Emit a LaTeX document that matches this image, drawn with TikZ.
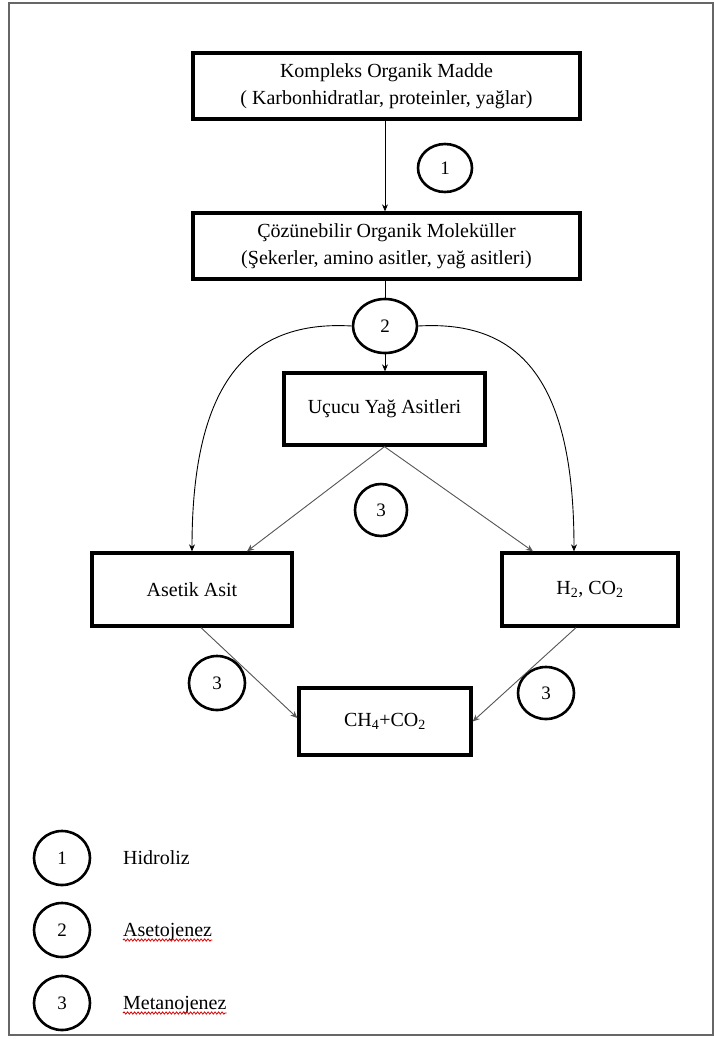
\documentclass[tikz,border=0pt]{standalone}
\usepackage{fontspec}
\setmainfont{Liberation Serif}
\usetikzlibrary{shapes.geometric,arrows.meta,decorations.pathmorphing}
\begin{document}
\begin{tikzpicture}[x=1pt,y=-1pt,
 box/.style={draw,line width=3.3pt,inner sep=0pt,align=center,font=\fontsize{20}{27}\selectfont},
 num/.style={draw,ellipse,line width=2.6pt,inner sep=0pt,font=\fontsize{19}{19}\selectfont},
 arr/.style={-{Stealth[length=7pt,width=6pt]},line width=0.9pt},
 garr/.style={arr,draw=black!65,fill=black!65},
 lbl/.style={anchor=base west,inner sep=0pt,font=\fontsize{20}{20}\selectfont},
 wavy/.style={draw=red!85!black,line width=0.8pt,decorate,decoration={snake,amplitude=1.1pt,segment length=3.5pt}}]
\useasboundingbox (0,0) rectangle (714,1039);
\draw[line width=1.5pt,black!60] (9,3) rectangle (713,1035);

% boxes
\node[box,minimum width=387pt,minimum height=66pt] (b1) at (386.5,86)
  {Kompleks Organik Madde\\( Karbonhidratlar, proteinler, yağlar)};
\node[box,minimum width=387pt,minimum height=66pt] (b2) at (386.5,246)
  {Çözünebilir Organik Moleküller\\(Şekerler, amino asitler, yağ asitleri)};
\node[box,minimum width=201pt,minimum height=72pt] (b3) at (384.5,409) {Uçucu Yağ Asitleri};
\node[box,minimum width=200pt,minimum height=73pt] (b4) at (192,589.5) {Asetik Asit};
\node[box,minimum width=176pt,minimum height=73pt] (b5) at (590,589.5) {H\textsubscript{2}, CO\textsubscript{2}};
\node[box,minimum width=172pt,minimum height=67pt] (b6) at (385,721.5) {CH\textsubscript{4}+CO\textsubscript{2}};

% step circles
\node[num,minimum width=54pt,minimum height=48pt] (c1) at (445,168) {1};
\node[num,minimum width=64pt,minimum height=54pt] (c2) at (385,326) {2};
\node[num,minimum width=52pt,minimum height=52pt] (c3m) at (381,510) {3};
\node[num,minimum width=56pt,minimum height=54pt] (c3l) at (217,683) {3};
\node[num,minimum width=56pt,minimum height=52pt] (c3r) at (546,693) {3};

% connectors
\draw[arr] (b1.south -| c2) -- (b2.north -| c2);
\draw[line width=0.9pt] (b2.south -| c2) -- (c2.north);
\draw[arr] (c2.south) -- (b3.north -| c2);
\draw[arr] (c2.west) .. controls (250,320) and (192,380) .. (b4.north);
\draw[arr] (c2.east) .. controls (520,320) and (574,380) .. ([xshift=-16pt]b5.north);
\draw[garr] (b3.south) -- ([xshift=55pt]b4.north);
\draw[garr] (b3.south) -- ([xshift=-57pt]b5.north);
\draw[garr] ([xshift=9pt]b4.south) -- ([yshift=3.5pt]b6.west);
\draw[garr] ([xshift=-14pt]b5.south) -- (b6.east);

% legend
\node[num,minimum width=56pt,minimum height=54pt] (l1) at (62,858) {1};
\node[num,minimum width=56pt,minimum height=54pt] (l2) at (62,930) {2};
\node[num,minimum width=56pt,minimum height=54pt] (l3) at (62,1003) {3};
\node[lbl] (t1) at (123,864) {Hidroliz};
\node[lbl] (t2) at (123,936) {Asetojenez};
\node[lbl] (t3) at (123,1009) {Metanojenez};
\draw[wavy] ([yshift=-4pt]t2.base west) -- ([yshift=-4pt]t2.base east);
\draw[wavy] ([yshift=-4pt]t3.base west) -- ([yshift=-4pt]t3.base east);
\end{tikzpicture}
\end{document}
